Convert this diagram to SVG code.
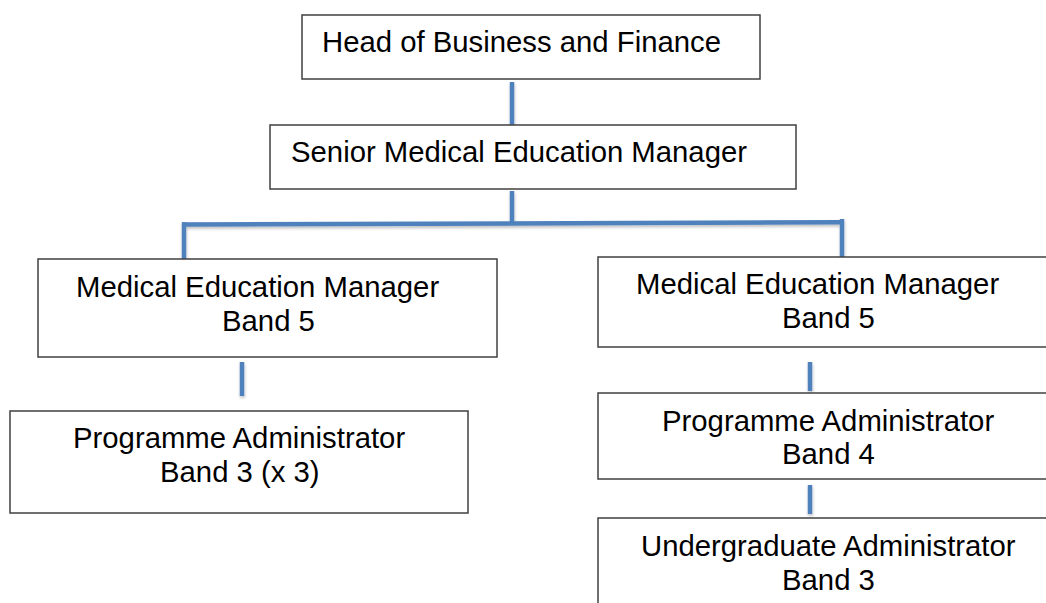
<svg xmlns="http://www.w3.org/2000/svg" width="1046" height="603" viewBox="0 0 1046 603">
<defs>
<style>
.box{fill:#ffffff;stroke:#404040;stroke-width:1.5}
.t{font-family:"Liberation Sans",Arial,sans-serif;font-size:29.3px;fill:#000000}
.c{stroke:#4F81BD;stroke-width:4.5;fill:none}
</style>
<filter id="sh" x="-20%" y="-20%" width="140%" height="160%">
<feDropShadow dx="0.5" dy="2" stdDeviation="1.5" flood-color="#000000" flood-opacity="0.25"/>
</filter>
</defs>
<rect x="0" y="0" width="1046" height="603" fill="#ffffff"/>
<g id="connectors" filter="url(#sh)">
<line class="c" x1="512" y1="82" x2="512" y2="125"/>
<line class="c" x1="512" y1="191" x2="512" y2="224"/>
<line class="c" x1="182" y1="224.5" x2="840" y2="222.3"/>
<line class="c" x1="184" y1="222.3" x2="184" y2="264"/>
<line class="c" x1="842" y1="219" x2="842" y2="258"/>
<line class="c" x1="242" y1="362" x2="242" y2="396"/>
<line class="c" x1="810" y1="362" x2="810" y2="391"/>
<line class="c" x1="810" y1="485" x2="810" y2="514"/>
</g>
<g id="head">
<rect class="box" x="302" y="15" width="458" height="64"/>
<text class="t" x="322" y="52">Head of Business and Finance</text>
</g>
<g id="senior">
<rect class="box" x="270" y="125" width="526" height="64"/>
<text class="t" x="291" y="162">Senior Medical Education Manager</text>
</g>
<g id="mem-left">
<rect class="box" x="38" y="259" width="459" height="98"/>
<text class="t" x="76" y="297">Medical Education Manager</text>
<text class="t" x="222" y="331">Band 5</text>
</g>
<g id="pa-left">
<rect class="box" x="10" y="411" width="458" height="102"/>
<text class="t" x="73" y="448">Programme Administrator</text>
<text class="t" x="160" y="482">Band 3 (x 3)</text>
</g>
<g id="mem-right">
<rect class="box" x="598" y="257" width="470" height="90"/>
<text class="t" x="636" y="294">Medical Education Manager</text>
<text class="t" x="782" y="328">Band 5</text>
</g>
<g id="pa-right">
<rect class="box" x="598" y="393" width="470" height="86"/>
<text class="t" x="662" y="431">Programme Administrator</text>
<text class="t" x="782" y="464">Band 4</text>
</g>
<g id="ug-right">
<rect class="box" x="598" y="518" width="470" height="100"/>
<text class="t" x="641" y="556">Undergraduate Administrator</text>
<text class="t" x="782" y="590">Band 3</text>
</g>
</svg>
